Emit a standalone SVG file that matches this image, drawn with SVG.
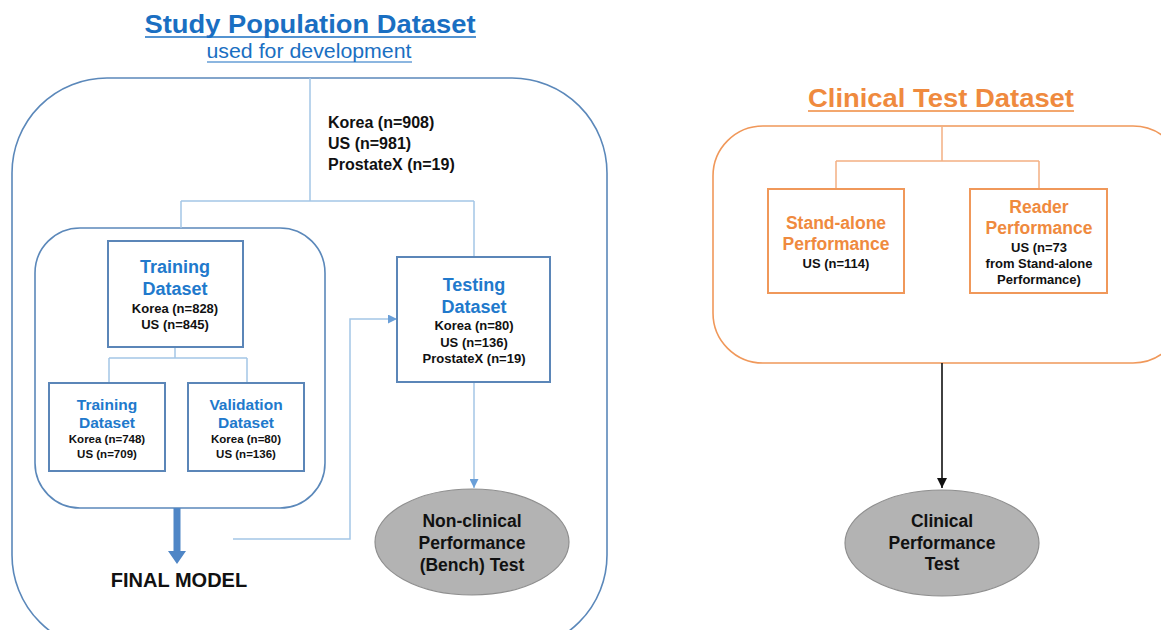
<svg xmlns="http://www.w3.org/2000/svg" width="1161" height="630" viewBox="0 0 1161 630">
<defs>
<marker id="ab" viewBox="0 0 10 10" refX="10" refY="5" markerWidth="9" markerHeight="9" markerUnits="userSpaceOnUse" orient="auto"><path d="M0,0 L10,5 L0,10 z" fill="#6a9fd8"/></marker>
<marker id="ak" viewBox="0 0 10 10" refX="10" refY="5" markerWidth="10" markerHeight="10" markerUnits="userSpaceOnUse" orient="auto"><path d="M0,0 L10,5 L0,10 z" fill="#111"/></marker>
<style>
text{font-family:"Liberation Sans",Arial,sans-serif;text-anchor:middle;font-weight:bold}
.tb{fill:#1a6fc2}
.hb{fill:#2179cc}
.ho{fill:#ef8a3e}
.k{fill:#111}
.frame{fill:none;stroke:#5b88ba;stroke-width:1.6}
.box{fill:#fff;stroke:#5b86b8;stroke-width:2}
.obox{fill:#fff;stroke:#f0985a;stroke-width:2}
.ln{fill:none;stroke:#a4c6e6;stroke-width:1.5}
.oln{fill:none;stroke:#f4b083;stroke-width:1.5}
.ell{fill:#b3b3b3;stroke:#8f8f8f;stroke-width:1.2}
</style>
</defs>

<g id="titles">
<text x="310" y="33" class="tb" font-size="26" textLength="331" lengthAdjust="spacingAndGlyphs">Study Population Dataset</text>
<line x1="145" y1="37" x2="476" y2="37" stroke="#1a6fc2" stroke-width="1.5"/>
<text x="309" y="58" class="tb" font-size="20" font-weight="normal" style="font-weight:normal" textLength="205" lengthAdjust="spacingAndGlyphs">used for development</text>
<line x1="207" y1="62" x2="412" y2="62" stroke="#1a6fc2" stroke-width="1.2"/>
<text x="941" y="107" class="ho" font-size="25" textLength="266" lengthAdjust="spacingAndGlyphs">Clinical Test Dataset</text>
<line x1="808" y1="111" x2="1074" y2="111" stroke="#ef8a3e" stroke-width="1.5"/>
</g>

<g id="study-frame">
<rect x="12" y="78" width="595" height="572" rx="95" class="frame"/>
</g>
<g id="training-frame">
<rect x="35" y="228" width="290" height="280" rx="45" class="frame"/>
</g>
<g id="clinical-frame">
<rect x="713" y="126" width="470" height="237" rx="50" fill="none" stroke="#f0985a" stroke-width="1.6"/>
</g>

<g id="connectors">
<path d="M310,78 V201 M181,201 H474 M181,201 V228 M474,201 V257" class="ln"/>
<path d="M175,347 V358 M109,358 H247 M109,358 V383 M247,358 V383" class="ln"/>
<path d="M474,382 V488" class="ln" stroke="#6a9fd8" marker-end="url(#ab)"/>
<path d="M233,539 H350 V319 H397" class="ln" stroke="#7aaee0" marker-end="url(#ab)"/>
<path d="M173.5,508 V551 H168 L177,564 L186,551 H180.5 V508 z" fill="#4f86c6"/>
<path d="M942,126 V161 M836,161 H1039 M836,161 V189 M1039,161 V189" class="oln"/>
<path d="M942,363 V488" fill="none" stroke="#111" stroke-width="1.6" marker-end="url(#ak)"/>
</g>

<g id="population-counts">
<text x="328" y="128" class="k" font-size="16" style="text-anchor:start">Korea (n=908)</text>
<text x="328" y="149" class="k" font-size="16" style="text-anchor:start">US (n=981)</text>
<text x="328" y="170" class="k" font-size="16" style="text-anchor:start">ProstateX (n=19)</text>
</g>

<g id="training-dataset">
<rect x="108" y="241" width="135" height="106" class="box"/>
<text x="175" y="273" class="hb" font-size="18">Training</text>
<text x="175" y="295" class="hb" font-size="18">Dataset</text>
<text x="175" y="313" class="k" font-size="13">Korea (n=828)</text>
<text x="175" y="329" class="k" font-size="13">US (n=845)</text>
</g>

<g id="training-subset">
<rect x="49" y="383" width="116" height="88" class="box"/>
<text x="107" y="410" class="hb" font-size="15.5">Training</text>
<text x="107" y="428" class="hb" font-size="15.5">Dataset</text>
<text x="107" y="443" class="k" font-size="11.5">Korea (n=748)</text>
<text x="107" y="458" class="k" font-size="11.5">US (n=709)</text>
</g>

<g id="validation-dataset">
<rect x="188" y="383" width="116" height="88" class="box"/>
<text x="246" y="410" class="hb" font-size="15.5">Validation</text>
<text x="246" y="428" class="hb" font-size="15.5">Dataset</text>
<text x="246" y="443" class="k" font-size="11.5">Korea (n=80)</text>
<text x="246" y="458" class="k" font-size="11.5">US (n=136)</text>
</g>

<g id="testing-dataset">
<rect x="397" y="257" width="153" height="125" class="box"/>
<text x="474" y="291" class="hb" font-size="18">Testing</text>
<text x="474" y="313" class="hb" font-size="18">Dataset</text>
<text x="474" y="330" class="k" font-size="13">Korea (n=80)</text>
<text x="474" y="347" class="k" font-size="13">US (n=136)</text>
<text x="474" y="363" class="k" font-size="13">ProstateX (n=19)</text>
</g>

<g id="final-model">
<text x="179" y="587" class="k" font-size="20">FINAL MODEL</text>
</g>

<g id="nonclinical-test">
<ellipse cx="472" cy="542" rx="97" ry="53" class="ell"/>
<text x="472" y="527" class="k" font-size="17.5">Non-clinical</text>
<text x="472" y="549" class="k" font-size="17.5">Performance</text>
<text x="472" y="571" class="k" font-size="17.5">(Bench) Test</text>
</g>

<g id="standalone-performance">
<rect x="768" y="189" width="136" height="104" class="obox"/>
<text x="836" y="229" class="ho" font-size="17.5">Stand-alone</text>
<text x="836" y="250" class="ho" font-size="17.5">Performance</text>
<text x="836" y="268" class="k" font-size="13">US (n=114)</text>
</g>

<g id="reader-performance">
<rect x="970" y="189" width="137" height="104" class="obox"/>
<text x="1039" y="213" class="ho" font-size="17.5">Reader</text>
<text x="1039" y="234" class="ho" font-size="17.5">Performance</text>
<text x="1039" y="252" class="k" font-size="13">US (n=73</text>
<text x="1039" y="268" class="k" font-size="13">from Stand-alone</text>
<text x="1039" y="284" class="k" font-size="13">Performance)</text>
</g>

<g id="clinical-test">
<ellipse cx="942" cy="543" rx="97" ry="53" class="ell"/>
<text x="942" y="527" class="k" font-size="17.5">Clinical</text>
<text x="942" y="549" class="k" font-size="17.5">Performance</text>
<text x="942" y="570" class="k" font-size="17.5">Test</text>
</g>
</svg>
